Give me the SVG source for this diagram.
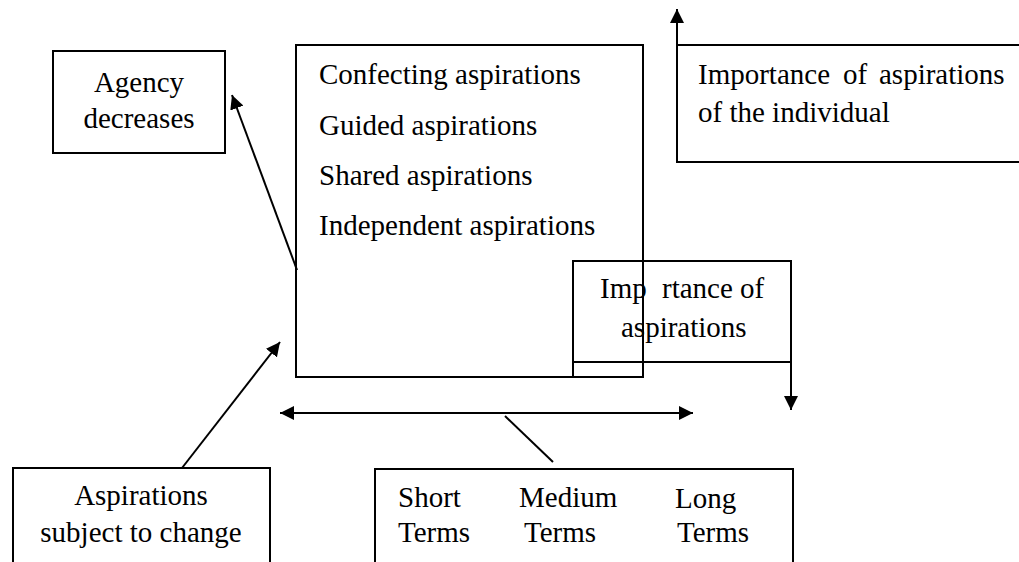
<svg xmlns="http://www.w3.org/2000/svg" width="1019" height="562" viewBox="0 0 1019 562">
<defs>
<marker id="ah" viewBox="0 0 10 10" refX="10" refY="5" markerWidth="14" markerHeight="14" markerUnits="userSpaceOnUse" orient="auto-start-reverse">
<path d="M0,0 L10,5 L0,10 Z" fill="#000"/>
</marker>
<style>
.box{fill:none;stroke:#000;stroke-width:2}
.ln{fill:none;stroke:#000;stroke-width:2}
.t{font-family:"Liberation Serif","Times New Roman",serif;font-size:29px;fill:#000}
.c{text-anchor:middle}
</style>
</defs>
<rect width="1019" height="562" fill="#fff"/>
<g id="agency">
<rect class="box" x="53" y="51" width="172" height="102"/>
<text class="t c" x="139" y="92">Agency</text>
<text class="t c" x="139" y="128">decreases</text>
</g>
<g id="main">
<rect class="box" x="296" y="45" width="347" height="332"/>
<text class="t" x="319" y="84">Confecting aspirations</text>
<text class="t" x="319" y="135">Guided aspirations</text>
<text class="t" x="319" y="185">Shared aspirations</text>
<text class="t" x="319" y="235">Independent aspirations</text>
</g>
<g id="individual">
<path class="ln" d="M1019,45 H677 V162 H1019"/>
<text class="t" x="698" y="84">Importance</text>
<text class="t" x="843" y="84">of</text>
<text class="t" x="879" y="84">aspirations</text>
<text class="t" x="698" y="122">of the individual</text>
</g>
<g id="importance">
<rect class="box" x="573" y="261" width="218" height="101"/>
<line class="ln" x1="573" y1="362" x2="573" y2="377"/>
<text class="t" x="600" y="298">Imp</text>
<text class="t" x="662" y="298">rtance of</text>
<text class="t" x="621" y="337">aspirations</text>
</g>
<g id="change">
<path class="ln" d="M13,562 V468 H270 V562"/>
<text class="t c" x="141" y="505">Aspirations</text>
<text class="t c" x="141" y="542">subject to change</text>
</g>
<g id="terms">
<path class="ln" d="M375,562 V469 H793 V562"/>
<text class="t" x="398" y="507">Short</text>
<text class="t" x="398" y="542">Terms</text>
<text class="t" x="519" y="507">Medium</text>
<text class="t" x="524" y="542">Terms</text>
<text class="t" x="675" y="508">Long</text>
<text class="t" x="677" y="542">Terms</text>
</g>
<g id="connectors">
<line class="ln" x1="297" y1="270" x2="232" y2="95" marker-end="url(#ah)"/>
<line class="ln" x1="182" y1="468" x2="280" y2="342" marker-end="url(#ah)"/>
<line class="ln" x1="280" y1="413" x2="693" y2="413" marker-start="url(#ah)" marker-end="url(#ah)"/>
<line class="ln" x1="505" y1="416" x2="553" y2="462"/>
<line class="ln" x1="791" y1="330" x2="791" y2="410" marker-end="url(#ah)"/>
<line class="ln" x1="677" y1="162" x2="677" y2="9" marker-end="url(#ah)"/>
</g>
</svg>
